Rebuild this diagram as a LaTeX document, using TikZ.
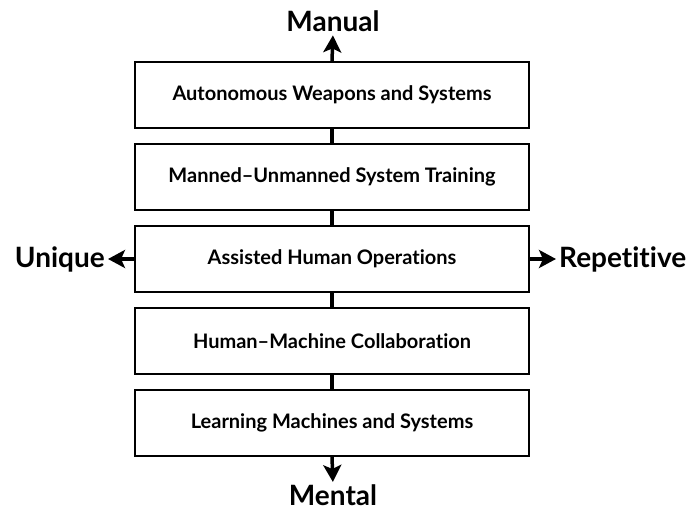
\documentclass[tikz,border=0pt]{standalone}
\usepackage{fontspec}
\setmainfont{Lato}[Ligatures=NoCommon]
\usetikzlibrary{arrows.meta,positioning}

\begin{document}
\begin{tikzpicture}[x=1pt,y=1pt,
    layer/.style={draw,line width=2pt,minimum width=394pt,minimum height=66pt,
      font=\bfseries\fontsize{20}{23}\selectfont},
    axislabel/.style={inner sep=0pt,font=\bfseries\fontsize{28}{32}\selectfont},
    link/.style={line width=3.5pt},
    axisarrow/.style={line width=3.5pt,shorten >=3pt,
      -{Stealth[length=17pt,width=18pt,inset=4pt]}}]
  \useasboundingbox (0,0) rectangle (689,512);

  \node[layer] (L1) at (332,417) {Autonomous Weapons and Systems};
  \node[layer] (L2) at (332,335) {Manned--Unmanned System Training};
  \node[layer] (L3) at (332,253) {Assisted Human Operations};
  \node[layer] (L4) at (332,171) {Human--Machine Collaboration};
  \node[layer] (L5) at (332,89)  {Learning Machines and Systems};

  \node[axislabel,anchor=base] (Man) at (333,480) {Manual};
  \node[axislabel,anchor=base] (Men) at (333,6) {Mental};
  \node[axislabel,anchor=east] (Uni) at (105,253) {Unique};
  \node[axislabel,anchor=west] (Rep) at (559,253) {Repetitive};

  \draw[link] (L1) -- (L2);
  \draw[link] (L2) -- (L3);
  \draw[link] (L3) -- (L4);
  \draw[link] (L4) -- (L5);

  \draw[axisarrow] (L1.north) -- (Man.south);
  \draw[axisarrow] (L5.south) -- (Men.north);
  \draw[axisarrow] (L3.west) -- (Uni.east);
  \draw[axisarrow] (L3.east) -- (Rep.west);
\end{tikzpicture}
\end{document}
